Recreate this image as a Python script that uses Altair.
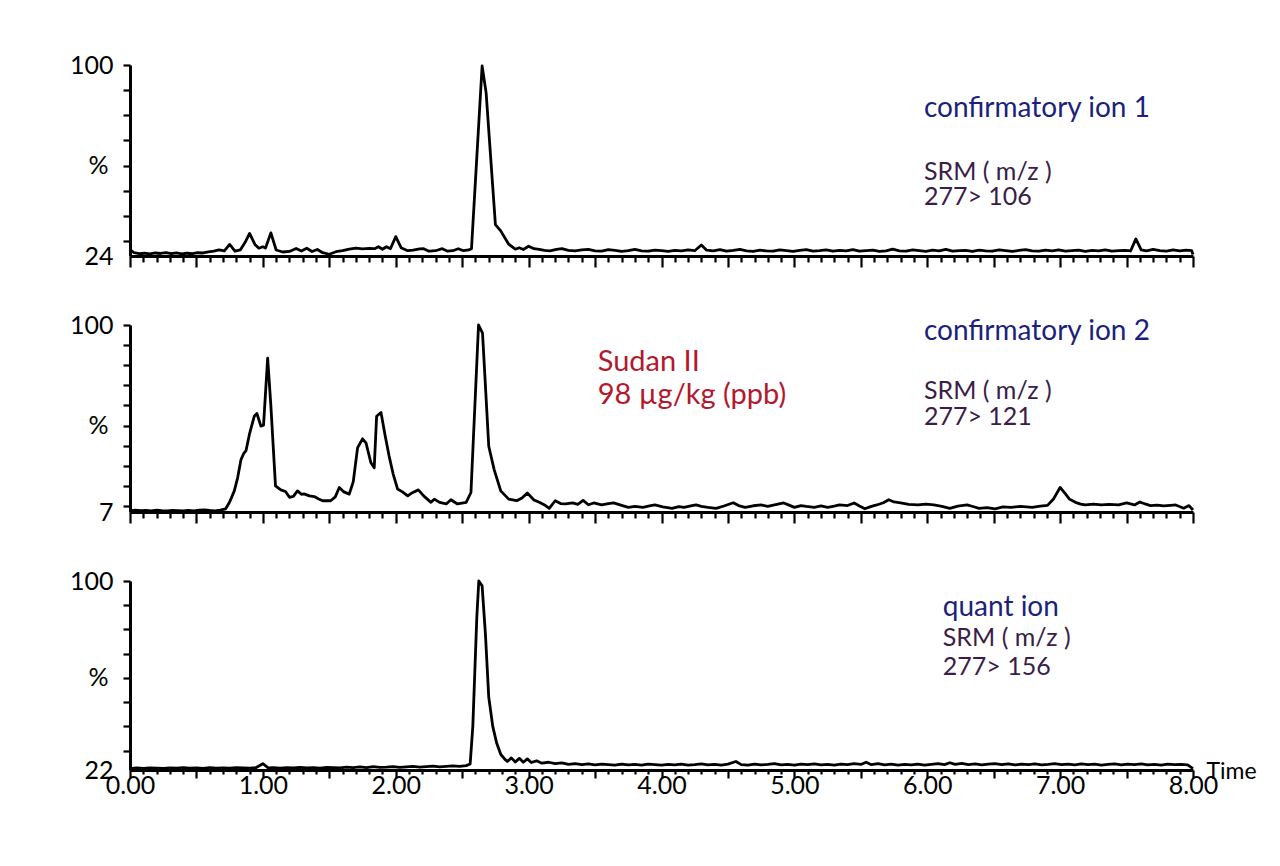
import altair as alt
import pandas as pd

# ---------------- data (retention time in min, relative intensity in %) ----------------
ion1_points = [
    (0.00, 26.6), (0.03, 25.3), (0.07, 24.9), (0.11, 25.1), (0.15, 24.8), (0.19, 25.2), (0.23, 25.0),
    (0.27, 25.3), (0.31, 24.9), (0.35, 25.2), (0.39, 24.8), (0.43, 25.1), (0.47, 24.9), (0.51, 25.3),
    (0.55, 25.2), (0.59, 25.6), (0.63, 25.9), (0.67, 26.4), (0.71, 26.0), (0.75, 28.6), (0.79, 25.9),
    (0.83, 26.4), (0.87, 29.8), (0.90, 33.0), (0.94, 28.6), (0.97, 27.1), (1.00, 27.7), (1.02, 27.2),
    (1.06, 33.2), (1.10, 26.4), (1.15, 25.6), (1.20, 25.8), (1.25, 27.0), (1.29, 26.0), (1.33, 27.1),
    (1.37, 25.8), (1.41, 26.6), (1.45, 25.3), (1.50, 24.7), (1.55, 25.7), (1.60, 26.1), (1.65, 26.7),
    (1.70, 27.1), (1.75, 26.8), (1.80, 27.0), (1.84, 26.9), (1.87, 27.7), (1.90, 26.7), (1.93, 27.7),
    (1.96, 26.9), (2.00, 31.7), (2.04, 27.3), (2.09, 26.1), (2.13, 26.3), (2.18, 26.8), (2.21, 26.9),
    (2.25, 25.9), (2.30, 26.1), (2.35, 26.9), (2.39, 25.9), (2.43, 26.1), (2.47, 26.9), (2.51, 26.1),
    (2.55, 26.4), (2.57, 26.9), (2.65, 99.6), (2.68, 89.0), (2.75, 36.5), (2.79, 34.0), (2.85, 28.7),
    (2.90, 26.7), (2.93, 27.3), (2.96, 26.6), (3.00, 27.9), (3.04, 26.9), (3.08, 26.6), (3.12, 26.2),
    (3.16, 26.0), (3.21, 26.6), (3.25, 26.9), (3.30, 26.2), (3.35, 26.0), (3.40, 26.4), (3.45, 26.6),
    (3.50, 26.0), (3.55, 25.9), (3.60, 26.5), (3.65, 26.2), (3.70, 25.8), (3.75, 26.1), (3.80, 26.6),
    (3.85, 26.0), (3.90, 25.9), (3.95, 26.3), (4.00, 26.1), (4.05, 25.8), (4.10, 26.2), (4.15, 26.0),
    (4.20, 26.4), (4.25, 26.1), (4.30, 28.4), (4.34, 26.3), (4.39, 26.0), (4.44, 26.5), (4.49, 25.9),
    (4.54, 26.2), (4.59, 26.6), (4.64, 26.0), (4.69, 25.8), (4.74, 26.3), (4.79, 26.0), (4.84, 25.9),
    (4.89, 26.4), (4.94, 26.1), (4.99, 25.8), (5.04, 26.2), (5.09, 26.5), (5.14, 25.9), (5.19, 26.1),
    (5.24, 26.4), (5.29, 25.9), (5.34, 26.2), (5.39, 26.0), (5.44, 26.5), (5.49, 25.9), (5.54, 26.1),
    (5.59, 26.3), (5.64, 25.8), (5.69, 26.0), (5.74, 26.7), (5.79, 26.0), (5.84, 25.9), (5.89, 26.4),
    (5.94, 26.1), (5.99, 25.8), (6.04, 26.3), (6.09, 26.0), (6.14, 26.6), (6.19, 25.9), (6.24, 26.1),
    (6.29, 26.2), (6.34, 25.8), (6.39, 26.3), (6.44, 26.0), (6.49, 25.9), (6.54, 26.4), (6.59, 26.1),
    (6.64, 25.8), (6.69, 26.2), (6.74, 26.5), (6.79, 26.0), (6.84, 25.9), (6.89, 26.3), (6.94, 26.0),
    (6.99, 26.4), (7.04, 25.9), (7.09, 26.1), (7.14, 26.3), (7.19, 25.8), (7.24, 26.2), (7.29, 26.0),
    (7.34, 26.4), (7.39, 25.9), (7.44, 26.1), (7.49, 26.2), (7.53, 26.0), (7.57, 30.8), (7.61, 26.4),
    (7.65, 26.0), (7.70, 26.6), (7.75, 26.1), (7.80, 25.9), (7.85, 26.4), (7.90, 26.0), (7.95, 26.3),
    (7.99, 26.1), (8.00, 24.6),
]

ion2_points = [
    (0.00, 7.6), (0.04, 7.9), (0.08, 7.7), (0.12, 7.8), (0.16, 7.6), (0.20, 7.9), (0.24, 7.7), (0.28, 7.6),
    (0.32, 7.8), (0.36, 7.7), (0.40, 7.6), (0.44, 7.8), (0.48, 7.6), (0.52, 7.9), (0.56, 8.1), (0.60, 7.8),
    (0.64, 7.6), (0.68, 7.9), (0.72, 8.6), (0.75, 12.0), (0.785, 17.5), (0.81, 24.0), (0.835, 33.0),
    (0.855, 36.0), (0.873, 37.5), (0.90, 46.0), (0.935, 54.6), (0.955, 56.0), (0.985, 49.7), (1.005, 50.2),
    (1.036, 83.5), (1.06, 60.0), (1.095, 20.0), (1.135, 18.0), (1.17, 17.2), (1.20, 14.3), (1.23, 14.8),
    (1.26, 17.5), (1.29, 15.8), (1.31, 16.0), (1.35, 15.0), (1.387, 14.7), (1.42, 13.5), (1.45, 12.6),
    (1.51, 12.6), (1.545, 14.5), (1.575, 19.2), (1.61, 17.0), (1.65, 15.9), (1.68, 22.0), (1.713, 39.0),
    (1.75, 43.4), (1.776, 41.4), (1.813, 31.5), (1.838, 29.0), (1.856, 54.6), (1.889, 56.5), (1.92, 45.0),
    (1.95, 34.8), (1.98, 26.0), (2.014, 18.4), (2.05, 17.0), (2.09, 15.0), (2.125, 16.6), (2.17, 18.0),
    (2.21, 15.0), (2.265, 11.8), (2.29, 13.4), (2.33, 11.8), (2.38, 11.0), (2.415, 13.1), (2.465, 11.0),
    (2.53, 11.8), (2.566, 16.7), (2.623, 100.0), (2.653, 96.0), (2.70, 39.7), (2.74, 28.2), (2.79, 17.5),
    (2.85, 13.4), (2.91, 12.6), (2.95, 14.0), (2.99, 16.4), (3.04, 13.0), (3.08, 11.8), (3.12, 10.5),
    (3.155, 8.8), (3.20, 12.6), (3.24, 11.2), (3.28, 11.0), (3.33, 11.5), (3.37, 10.8), (3.41, 12.8),
    (3.45, 10.6), (3.49, 11.5), (3.55, 10.5), (3.60, 11.2), (3.64, 11.5), (3.70, 10.3), (3.75, 9.3),
    (3.80, 9.8), (3.86, 9.3), (3.91, 10.1), (3.95, 10.5), (4.01, 9.6), (4.08, 8.8), (4.13, 9.7),
    (4.17, 9.3), (4.22, 10.0), (4.26, 10.5), (4.30, 9.8), (4.35, 9.3), (4.41, 8.8), (4.47, 10.0),
    (4.54, 11.6), (4.58, 10.2), (4.63, 9.3), (4.69, 10.1), (4.75, 10.5), (4.80, 9.8), (4.85, 10.5),
    (4.92, 11.5), (4.96, 10.4), (5.00, 9.3), (5.05, 10.2), (5.09, 9.8), (5.15, 9.3), (5.20, 10.0),
    (5.25, 9.3), (5.30, 9.9), (5.34, 10.5), (5.40, 10.2), (5.45, 11.5), (5.49, 10.0), (5.53, 8.6),
    (5.58, 9.8), (5.62, 10.5), (5.67, 11.6), (5.71, 13.1), (5.75, 12.0), (5.80, 11.5), (5.86, 10.8),
    (5.93, 10.5), (5.99, 10.9), (6.05, 10.5), (6.11, 9.8), (6.17, 8.8), (6.23, 9.9), (6.30, 10.5),
    (6.35, 9.6), (6.39, 8.8), (6.45, 9.2), (6.51, 8.6), (6.57, 9.5), (6.63, 9.3), (6.70, 9.8),
    (6.79, 9.3), (6.85, 9.9), (6.905, 10.3), (6.95, 13.5), (7.00, 19.2), (7.04, 16.0), (7.07, 13.4),
    (7.115, 11.8), (7.155, 10.9), (7.19, 10.5), (7.25, 10.9), (7.31, 10.5), (7.37, 10.8), (7.44, 10.5),
    (7.50, 11.5), (7.56, 10.5), (7.60, 12.0), (7.64, 11.0), (7.68, 10.2), (7.73, 10.4), (7.78, 10.0),
    (7.83, 10.3), (7.87, 10.5), (7.93, 8.9), (7.97, 10.2), (8.00, 8.0),
]

quant_points = [
    (0.00, 22.6), (0.05, 22.9), (0.10, 22.7), (0.15, 22.9), (0.20, 22.8), (0.25, 22.7), (0.30, 22.9),
    (0.35, 22.8), (0.40, 23.0), (0.45, 22.8), (0.50, 22.9), (0.55, 22.7), (0.60, 23.0), (0.65, 22.8),
    (0.70, 22.9), (0.75, 22.8), (0.80, 23.0), (0.85, 22.9), (0.90, 22.8), (0.95, 23.0), (1.00, 24.6),
    (1.04, 22.9), (1.08, 23.0), (1.13, 22.8), (1.18, 23.0), (1.23, 22.9), (1.28, 23.1), (1.33, 22.9),
    (1.38, 23.0), (1.43, 22.8), (1.48, 23.1), (1.53, 23.0), (1.58, 22.9), (1.63, 23.2), (1.68, 23.0),
    (1.73, 23.3), (1.78, 23.0), (1.83, 23.4), (1.88, 23.1), (1.93, 23.2), (1.98, 23.4), (2.03, 23.1),
    (2.08, 23.3), (2.13, 23.5), (2.18, 23.2), (2.23, 23.4), (2.28, 23.6), (2.33, 23.3), (2.38, 23.5),
    (2.43, 23.7), (2.48, 23.5), (2.53, 23.8), (2.56, 24.5), (2.58, 40.0), (2.61, 85.0), (2.625, 100.0),
    (2.65, 98.0), (2.675, 78.0), (2.70, 52.0), (2.73, 40.0), (2.76, 33.0), (2.79, 28.5), (2.82, 26.5),
    (2.84, 25.5), (2.87, 27.0), (2.90, 25.3), (2.93, 26.8), (2.96, 25.2), (2.99, 26.6), (3.02, 25.1),
    (3.06, 25.8), (3.10, 24.8), (3.15, 25.2), (3.20, 24.6), (3.25, 24.9), (3.30, 24.3), (3.35, 24.6),
    (3.40, 24.2), (3.45, 24.5), (3.50, 24.1), (3.55, 24.4), (3.60, 24.2), (3.65, 24.0), (3.70, 24.4),
    (3.75, 24.1), (3.80, 24.3), (3.85, 24.0), (3.90, 24.4), (3.95, 24.2), (4.00, 24.0), (4.05, 24.3),
    (4.10, 24.1), (4.15, 24.4), (4.20, 24.0), (4.25, 24.2), (4.30, 24.5), (4.35, 24.1), (4.40, 24.3),
    (4.45, 24.0), (4.50, 24.4), (4.56, 25.5), (4.60, 24.2), (4.65, 24.0), (4.70, 24.4), (4.75, 24.1),
    (4.80, 24.3), (4.85, 24.6), (4.90, 24.1), (4.95, 24.3), (5.00, 24.0), (5.05, 24.4), (5.10, 24.2),
    (5.15, 24.5), (5.20, 24.1), (5.25, 24.3), (5.30, 24.0), (5.35, 24.4), (5.40, 24.2), (5.45, 24.6),
    (5.50, 24.3), (5.54, 25.2), (5.58, 24.2), (5.63, 24.6), (5.68, 24.1), (5.73, 24.4), (5.78, 24.0),
    (5.83, 24.3), (5.88, 24.1), (5.93, 24.4), (5.98, 24.0), (6.03, 24.3), (6.08, 24.6), (6.13, 24.2),
    (6.17, 25.0), (6.21, 24.3), (6.26, 24.7), (6.31, 24.2), (6.36, 24.5), (6.41, 24.1), (6.46, 24.4),
    (6.51, 24.6), (6.56, 24.2), (6.61, 24.5), (6.66, 24.1), (6.71, 24.4), (6.76, 24.2), (6.81, 24.5),
    (6.86, 24.1), (6.91, 24.3), (6.96, 24.6), (7.01, 24.2), (7.06, 24.4), (7.11, 24.1), (7.16, 24.5),
    (7.21, 24.2), (7.26, 24.4), (7.31, 24.0), (7.36, 24.3), (7.41, 24.5), (7.46, 24.1), (7.51, 24.4),
    (7.56, 24.2), (7.61, 24.5), (7.66, 24.1), (7.71, 24.3), (7.76, 24.0), (7.81, 24.4), (7.86, 24.2),
    (7.91, 24.3), (7.96, 24.1), (8.00, 22.6),
]

# y-axis offsets (bottom label of each trace) and the tick that carries the "%" label
y_minimums = [24, 7, 22]
percent_ticks = [60, 50, 60]
panel_heights = [191, 187, 189]

# annotation texts: (time, intensity, text, colour, font size)
NAVY, PLUM, RED = "#1c1f7c", "#3a1d48", "#b3182d"
ion1_notes = [
    (5.975, 79.5, "confirmatory ion 1", NAVY, 28),
    (5.975, 54.4, "SRM ( m/z )", PLUM, 25),
    (5.975, 44.4, "277> 106", PLUM, 25),
]
ion2_notes = [
    (5.975, 92.6, "confirmatory ion 2", NAVY, 28),
    (5.975, 63.4, "SRM ( m/z )", PLUM, 25),
    (5.975, 50.4, "277> 121", PLUM, 25),
    (3.52, 76.9, "Sudan II", RED, 29),
    (3.52, 60.5, "98 µg/kg (ppb)", RED, 29),
]
quant_notes = [
    (6.117, 85.6, "quant ion", NAVY, 28),
    (6.117, 73.2, "SRM ( m/z )", PLUM, 25),
    (6.117, 61.3, "277> 156", PLUM, 25),
]

x_tick_values = [round(i * 0.1, 1) for i in range(81)]
FONT = "Lato"
PLOT_W = 1063


def panel(points, notes, ymin, pct, height, bottom):
    df = pd.DataFrame(points, columns=["t", "v"])
    ndf = pd.DataFrame(notes, columns=["t", "v", "label", "color", "size"])
    yvals = list(range(100, ymin, -10)) + [ymin]

    half = "abs(datum.value*2 - round(datum.value*2)) < 0.001"
    xaxis_kw = dict(
        values=x_tick_values,
        grid=False,
        domainColor="black",
        domainWidth=3,
        tickColor="black",
        tickWidth=2.2,
        labelOverlap=False,
        labelFlush=False,
    )
    if bottom:
        xaxis = alt.Axis(
            **xaxis_kw,
            tickSize={"condition": {"test": half, "value": 8}, "value": 4},
            labelExpr="abs(datum.value - round(datum.value)) < 0.001 ? format(datum.value, '.2f') : ''",
            labelFont=FONT,
            labelFontSize=25,
            labelColor="black",
            labelBaseline="middle",
            labelPadding=7,
            title="Time",
            titleX=PLOT_W + 13,
            titleY=1,
            titleAlign="left",
            titleBaseline="middle",
            titleFont=FONT,
            titleFontSize=23,
            titleFontWeight="normal",
            titleColor="black",
        )
    else:
        xaxis = alt.Axis(
            **xaxis_kw,
            tickSize={"condition": {"test": half, "value": 11}, "value": 6},
            labels=False,
            title=None,
        )

    yaxis = alt.Axis(
        values=yvals,
        grid=False,
        title=None,
        domainColor="black",
        domainWidth=3,
        tickColor="black",
        tickWidth=2.2,
        tickSize=7,
        tickOpacity={"condition": {"test": f"datum.value == {ymin}", "value": 0}, "value": 1},
        labelPadding={"condition": {"test": f"datum.value == {pct}", "value": 15}, "value": 10},
        labelExpr=(
            f"datum.value == 100 ? '100' : datum.value == {ymin} ? '{ymin}' : "
            f"datum.value == {pct} ? '%' : ''"
        ),
        labelFont=FONT,
        labelFontSize=25,
        labelColor="black",
        labelOverlap=False,
    )

    x = alt.X("t:Q", scale=alt.Scale(domain=[0, 8], nice=False, zero=False), axis=xaxis)
    y = alt.Y("v:Q", scale=alt.Scale(domain=[ymin, 100], nice=False, zero=False), axis=yaxis)

    line = alt.Chart(df).mark_line(color="black", strokeWidth=2.8, strokeJoin="round").encode(x=x, y=y)
    texts = alt.Chart(ndf).mark_text(align="left", baseline="alphabetic", font=FONT).encode(
        x=x,
        y=y,
        text="label:N",
        color=alt.Color("color:N", scale=None),
        size=alt.Size("size:Q", scale=None),
    )
    return alt.layer(line, texts).properties(width=PLOT_W, height=height)


p1 = panel(ion1_points, ion1_notes, y_minimums[0], percent_ticks[0], panel_heights[0], False)
p2 = panel(ion2_points, ion2_notes, y_minimums[1], percent_ticks[1], panel_heights[1], False)
p3 = panel(quant_points, quant_notes, y_minimums[2], percent_ticks[2], panel_heights[2], True)

chart = (
    alt.vconcat(p1, p2, p3, spacing=44)
    .properties(padding={"left": 61, "top": 45, "right": 5, "bottom": 5})
    .configure_view(stroke=None)
)

chart.save("out.html", embed_options={"renderer": "svg", "actions": False})
